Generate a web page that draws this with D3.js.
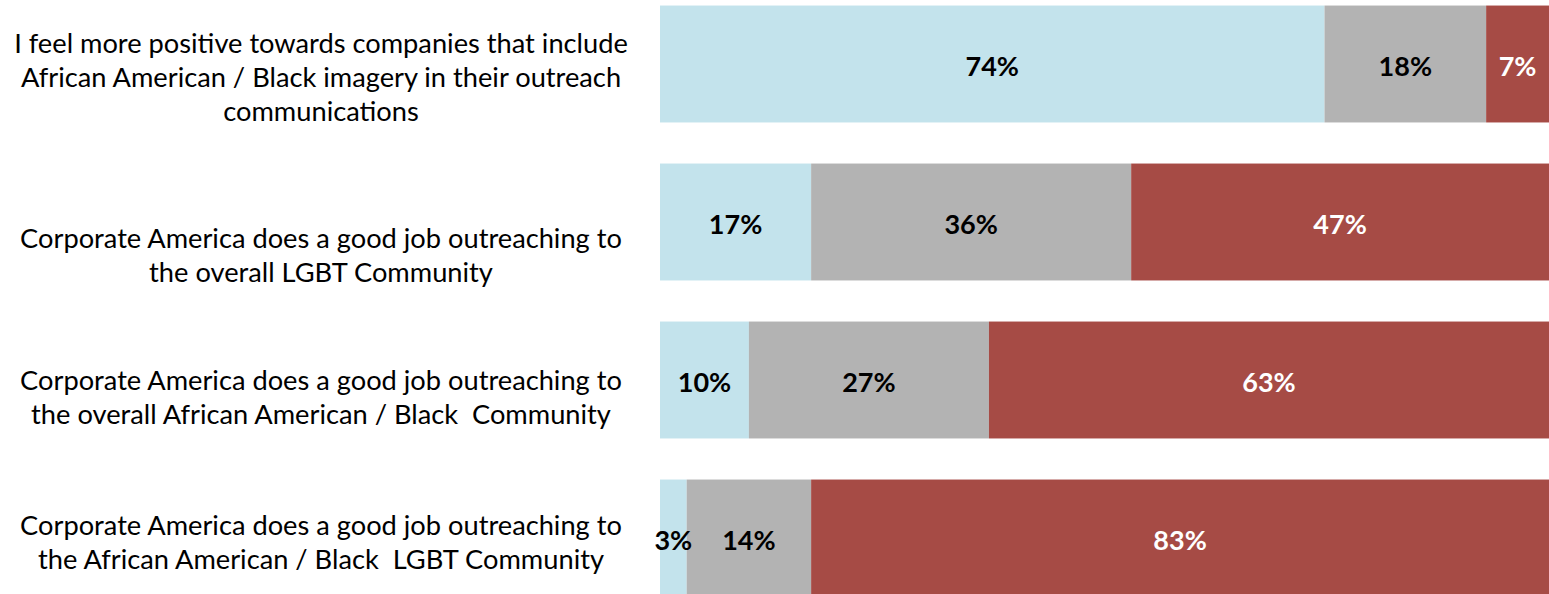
<!DOCTYPE html>
<html>
<head>
<meta charset="utf-8">
<script src="https://cdn.jsdelivr.net/npm/d3@7"></script>
<style>
  html, body { margin: 0; padding: 0; background: #fff; }
  svg text { white-space: pre; }
</style>
</head>
<body>
<svg id="chart" width="1549" height="594"></svg>
<script>
// Statements, each wrapped onto the lines it is shown with
const categories = [
  ["I feel more positive towards companies that include", "African American / Black imagery in their outreach", "communications"],
  ["Corporate America does a good job outreaching to", "the overall LGBT Community"],
  ["Corporate America does a good job outreaching to", "the overall African American / Black  Community"],
  ["Corporate America does a good job outreaching to", "the African American / Black  LGBT Community"]
];
const seriesNames = ["Agree", "Neutral", "Disagree"];
const agree    = [74, 17, 10, 3];
const neutral  = [18, 36, 27, 14];
const disagree = [7, 47, 63, 83];

const colors = ["#c3e3ec", "#b3b3b3", "#a64b45"];
const labelColors = ["#000", "#000", "#fff"];
// vertical shift of each statement block below its bar centre
const labelShift = [23, 43, 27, 14];

const svg = d3.select("#chart");

const rows = categories.map((c, i) => ({
  key: i,
  Agree: agree[i], Neutral: neutral[i], Disagree: disagree[i]
}));

const stack = d3.stack().keys(seriesNames).offset(d3.stackOffsetExpand);
const layers = stack(rows);

const x = d3.scaleLinear().domain([0, 1]).range([660, 1549]);
const y = d3.scaleBand()
  .domain(d3.range(categories.length))
  .range([-15, 617])
  .paddingInner(0.26)
  .paddingOuter(0.13);

const g = svg.append("g");
layers.forEach((layer, si) => {
  g.selectAll(null)
    .data(layer)
    .join("rect")
    .attr("x", d => x(d[0]))
    .attr("y", (d, i) => y(i))
    .attr("width", d => x(d[1]) - x(d[0]))
    .attr("height", y.bandwidth())
    .attr("fill", colors[si]);
});

// value labels, centred in each segment
layers.forEach((layer, si) => {
  g.selectAll(null)
    .data(layer)
    .join("text")
    .attr("x", d => (x(d[0]) + x(d[1])) / 2)
    .attr("y", (d, i) => y(i) + y.bandwidth() / 2)
    .attr("dy", "0.43em")
    .attr("text-anchor", "middle")
    .attr("font-family", "Lato, 'Open Sans', sans-serif")
    .attr("font-weight", "bold")
    .attr("font-size", 27)
    .attr("fill", labelColors[si])
    .text(d => d.data[seriesNames[si]] + "%");
});

// statement labels on the left
const lineH = 34;
const labels = svg.append("g")
  .attr("font-family", "Lato, 'Open Sans', sans-serif")
  .attr("font-size", 26)
  .attr("fill", "#000")
  .attr("text-anchor", "middle");

categories.forEach((lines, i) => {
  const cy = y(i) + y.bandwidth() / 2 + labelShift[i];
  const first = cy - (lines.length - 1) * lineH / 2;
  lines.forEach((ln, j) => {
    labels.append("text")
      .attr("x", 321)
      .attr("y", first + j * lineH)
      .text(ln);
  });
});

// size the statement text so the common first line spans its column
const ref = labels.selectAll("text").nodes()[3];
labels.attr("font-size", 26 * 602 / ref.getComputedTextLength());
</script>
</body>
</html>
